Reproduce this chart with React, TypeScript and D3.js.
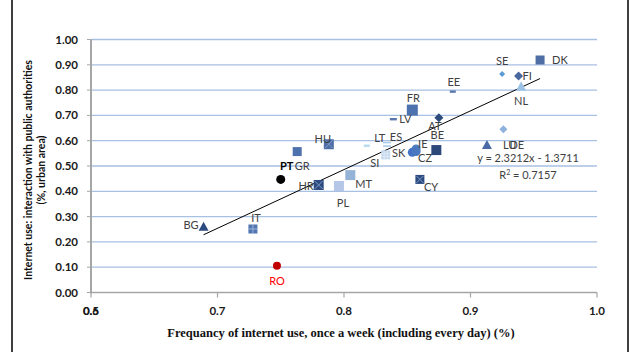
import React from 'react';
import * as d3 from 'd3';

// countries and their values
const countries = ['DK', 'SE', 'FI', 'NL', 'EE', 'FR', 'AT', 'LV', 'BE', 'IE', 'SK', 'CZ', 'CY', 'LU', 'DE', 'HU', 'GR', 'LT', 'ES', 'SI', 'MT', 'PL', 'HR', 'IT', 'BG', 'PT', 'RO'];
const weeklyUse = [0.955, 0.925, 0.938, 0.940, 0.886, 0.854, 0.875, 0.839, 0.873, 0.857, 0.854, 0.857, 0.860, 0.913, 0.926, 0.788, 0.763, 0.818, 0.834, 0.833, 0.805, 0.796, 0.780, 0.728, 0.689, 0.750, 0.747];
const publicAuth = [0.919, 0.864, 0.856, 0.814, 0.794, 0.721, 0.691, 0.685, 0.563, 0.567, 0.554, 0.557, 0.447, 0.583, 0.645, 0.586, 0.557, 0.580, 0.586, 0.544, 0.464, 0.421, 0.425, 0.251, 0.260, 0.447, 0.106];

const yTicks = [0, 0.1, 0.2, 0.3, 0.4, 0.5, 0.6, 0.7, 0.8, 0.9, 1.0];
const xTicks = [0.6, 0.7, 0.8, 0.9, 1.0];
const overlapTickLabel = '0.5';

const trendSlope = 2.3212;
const trendIntercept = -1.3711;
const trendText = 'y = 2.3212x - 1.3711';
const r2Text = '0.7157';

const yTitle = ['Internet use: interaction with public authorities', '(%, urban area)'];
const xTitle = 'Frequancy of internet use,  once a week (including every day) (%)';

// marker look per country: shape, size, fill
const markerStyle: Record<string, [string, number, string]> = {
  DK: ['square', 9, '#4f6ea6'],
  SE: ['diamond', 6, '#5b9bd5'],
  FI: ['diamond', 9, '#48679f'],
  NL: ['triangle', 10, '#9cc2e5'],
  EE: ['dash', 6, '#5a78ad'],
  FR: ['square', 11, '#4e72ad'],
  AT: ['diamond', 9, '#2d4a7c'],
  LV: ['dash', 7, '#5a78ad'],
  BE: ['square', 10, '#2c4878'],
  IE: ['circle', 9, '#4e7dc0'],
  SK: ['circle', 9, '#4472c4'],
  CZ: ['circle', 9, '#4a77bf'],
  CY: ['squareX', 9, '#2c4a7e'],
  LU: ['triangle', 10, '#4a6aa8'],
  DE: ['diamond', 8, '#8fb2dd'],
  HU: ['squareX', 10, '#4f6ea6'],
  GR: ['square', 9, '#4e72ad'],
  LT: ['dash', 6, '#b7dcf0'],
  ES: ['eq', 8, '#a9cdec'],
  SI: ['squareGrid', 9, '#c3d8ee'],
  MT: ['square', 10, '#95b3d7'],
  PL: ['square', 10, '#b4c7e7'],
  HR: ['squareX', 10, '#2c4a7e'],
  IT: ['squarePlus', 9, '#5075b0'],
  BG: ['triangle', 10, '#2c4a7e'],
  PT: ['circle', 9, '#000000'],
  RO: ['circle', 8, '#c00000'],
};

// label placement relative to the marker: dx, dy, anchor
const labelPos: Record<string, [number, number, string]> = {
  DK: [12, 4, 'start'], SE: [0, -9, 'middle'], FI: [4, 4, 'start'], NL: [0, 18, 'middle'],
  EE: [1, -6, 'middle'], FR: [1, -8, 'middle'], AT: [-4, 12, 'middle'], LV: [6, 4, 'start'],
  BE: [1, -11, 'middle'], IE: [2, -1, 'start'], SK: [-7, 5, 'end'], CZ: [9, 10, 'middle'],
  CY: [4, 12, 'start'], LU: [16, 4, 'start'], DE: [6, 20, 'start'], HU: [-6, -1, 'middle'],
  GR: [5, 18, 'middle'], LT: [13, -4, 'middle'], ES: [9, -3, 'middle'], SI: [-11, 12, 'middle'],
  MT: [5, 13, 'start'], PL: [4, 21, 'middle'], HR: [-5, 5, 'end'], IT: [3, -7, 'middle'],
  BG: [-5, 2, 'end'], PT: [6, -9, 'middle'], RO: [0, 19, 'middle'],
};

const W = 631;
const H = 352;
const left = 91, right = 597, top = 39.5, bottom = 292.5;
const font = 'Lato, "Liberation Sans", sans-serif';

function Marker({ cx, cy, kind, size, fill }: { cx: number; cy: number; kind: string; size: number; fill: string }) {
  const h = size / 2;
  if (kind === 'circle') return <circle cx={cx} cy={cy} r={h} fill={fill} />;
  if (kind === 'diamond')
    return <path d={`M${cx},${cy - h}L${cx + h},${cy}L${cx},${cy + h}L${cx - h},${cy}Z`} fill={fill} />;
  if (kind === 'triangle')
    return <path d={`M${cx},${cy - h}L${cx + h},${cy + h * 0.8}L${cx - h},${cy + h * 0.8}Z`} fill={fill} />;
  if (kind === 'dash') return <rect x={cx - h} y={cy - 1.2} width={size} height={2.4} fill={fill} />;
  if (kind === 'eq')
    return (
      <g fill={fill}>
        <rect x={cx - h} y={cy - 2.5} width={size} height={1.6} />
        <rect x={cx - h} y={cy + 1} width={size} height={1.6} />
      </g>
    );
  const sq = <rect x={cx - h} y={cy - h} width={size} height={size} fill={fill} />;
  if (kind === 'squareX')
    return (
      <g>
        {sq}
        <path d={`M${cx - h + 1},${cy - h + 1}L${cx + h - 1},${cy + h - 1}M${cx + h - 1},${cy - h + 1}L${cx - h + 1},${cy + h - 1}`} stroke="#7d9ac8" strokeWidth={1} />
      </g>
    );
  if (kind === 'squarePlus')
    return (
      <g>
        {sq}
        <path d={`M${cx},${cy - h}V${cy + h}M${cx - h},${cy}H${cx + h}`} stroke="#9db5dc" strokeWidth={1} />
      </g>
    );
  if (kind === 'squareGrid')
    return (
      <g>
        {sq}
        <path d={`M${cx - h / 3},${cy - h}V${cy + h}M${cx + h / 3},${cy - h}V${cy + h}M${cx - h},${cy - h / 3}H${cx + h}M${cx - h},${cy + h / 3}H${cx + h}`} stroke="#e6eef8" strokeWidth={0.8} />
      </g>
    );
  return sq;
}

export default function App() {
  const x = d3.scaleLinear().domain([0.6, 1.0]).range([left, right]);
  const y = d3.scaleLinear().domain([0, 1]).range([bottom, top]);

  const xMin = d3.min(weeklyUse) as number;
  const xMax = d3.max(weeklyUse) as number;
  const trend = d3.line<number>()
    .x(d => x(d))
    .y(d => y(trendSlope * d + trendIntercept))([xMin, xMax]);

  return (
    <svg width={W} height={H} style={{ position: 'absolute', left: 0, top: 0, background: '#fff' }} fontFamily={font}>
      <rect x={0} y={0} width={W} height={H} fill="#fff" />
      <rect x={12} y={-2} width={616} height={H + 4} fill="none" stroke="#000" strokeWidth={1.5} />

      {/* gridlines */}
      {yTicks.filter(t => t > 0).map(t => (
        <line key={t} x1={left} x2={right} y1={y(t)} y2={y(t)} stroke="#a8c0e2" strokeWidth={1.3} />
      ))}

      {/* axes */}
      <line x1={left} x2={left} y1={top} y2={bottom + 1} stroke="#a6a6a6" strokeWidth={2} />
      {yTicks.map(t => (
        <line key={'yt' + t} x1={left - 4} x2={left} y1={y(t)} y2={y(t)} stroke="#a6a6a6" strokeWidth={1} />
      ))}
      <line x1={left} x2={right} y1={bottom} y2={bottom} stroke="#a6a6a6" strokeWidth={1.5} />
      {xTicks.map(t => (
        <line key={'xt' + t} x1={x(t)} x2={x(t)} y1={bottom} y2={bottom + 5} stroke="#a6a6a6" strokeWidth={1.2} />
      ))}

      {yTicks.map(t => (
        <text key={'yl' + t} x={78} y={y(t) + 4} textAnchor="end" fontSize={11.5} fontWeight="bold" fill="#1a1a1a">
          {d3.format('.2f')(t)}
        </text>
      ))}
      <text x={x(0.6)} y={315} textAnchor="middle" fontSize={11.5} fontWeight="bold" fill="#1a1a1a">{overlapTickLabel}</text>
      {xTicks.map(t => (
        <text key={'xl' + t} x={x(t)} y={315} textAnchor="middle" fontSize={11.5} fontWeight="bold" fill="#1a1a1a">
          {d3.format('.1f')(t)}
        </text>
      ))}

      {/* axis titles */}
      <g transform="translate(32,170) rotate(-90)">
        <text x={0} y={0} textAnchor="middle" fontSize={10.5} fontWeight="bold" fill="#111">{yTitle[0]}</text>
        <text x={0} y={13} textAnchor="middle" fontSize={10.5} fontWeight="bold" fill="#111">{yTitle[1]}</text>
      </g>
      <text x={341} y={337} textAnchor="middle" fontSize={12.5} fontWeight="bold" fontFamily='"Liberation Serif", serif' fill="#111">
        {xTitle}
      </text>

      {/* trendline */}
      <path d={trend || ''} fill="none" stroke="#000" strokeWidth={1} />

      {/* markers */}
      {countries.map((c, i) => {
        const [kind, size, fill] = markerStyle[c];
        return <Marker key={c} cx={x(weeklyUse[i])} cy={y(publicAuth[i])} kind={kind} size={size} fill={fill} />;
      })}

      {/* labels */}
      {countries.map((c, i) => {
        const [dx, dy, anchor] = labelPos[c];
        const special = c === 'PT' ? { fill: '#000', fontWeight: 'bold' } : c === 'RO' ? { fill: '#ff0000' } : { fill: '#404040' };
        return (
          <text key={'l' + c} x={x(weeklyUse[i]) + dx} y={y(publicAuth[i]) + dy} textAnchor={anchor as any} fontSize={11} {...special}>
            {c}
          </text>
        );
      })}

      {/* equation */}
      <text x={528} y={162} textAnchor="middle" fontSize={11} fill="#404040">{trendText}</text>
      <text x={528} y={179} textAnchor="middle" fontSize={11} fill="#404040">
        R<tspan dy={-4} fontSize={7}>2</tspan><tspan dy={4}> = {r2Text}</tspan>
      </text>
    </svg>
  );
}
